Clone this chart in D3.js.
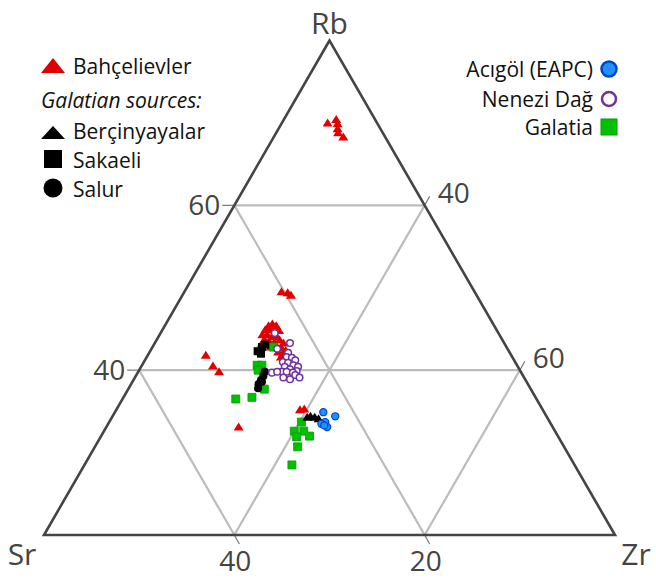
<!DOCTYPE html>
<html>
<head>
<meta charset="utf-8">
<script src="https://cdn.jsdelivr.net/npm/d3@7"></script>
<style>
  html, body { margin: 0; padding: 0; background: #fff; }
  svg { display: block; font-family: "Open Sans", "DejaVu Sans", sans-serif; }
</style>
</head>
<body>
<svg id="chart" width="656" height="579"></svg>
<script>
// [Rb, Sr, Zr] in %
const bahcelievler = [
  [70.0, 5.2, 24.8], [70.4, 4.1, 25.5], [69.9, 4.2, 25.9], [69.3, 4.5, 26.2], [68.8, 4.7, 26.5], [68.3, 4.4, 27.3],
  [49.5, 20.3, 30.2], [49.4, 19.7, 30.9], [49.1, 19.5, 31.4],
  [41.8, 32.1, 26.1], [40.5, 32.0, 27.5], [39.8, 31.7, 28.5], [33.1, 33.0, 33.9],
  [35.2, 25.5, 39.3], [35.3, 25.0, 39.7],
  [45.4, 23.7, 30.9], [45.6, 23.2, 31.2], [45.4, 22.9, 31.7], [44.9, 24.3, 30.8], [44.9, 23.8, 31.3],
  [44.8, 23.3, 31.9], [44.8, 22.9, 32.3], [44.3, 24.9, 30.8], [44.3, 24.4, 31.3], [44.1, 24.0, 31.9],
  [44.1, 23.5, 32.4], [43.7, 25.0, 31.3], [43.5, 24.6, 31.9], [43.4, 24.1, 32.5], [43.7, 23.4, 32.9],
  [43.3, 23.2, 33.5], [42.8, 24.8, 32.4], [42.8, 24.2, 33.0], [42.7, 23.7, 33.6], [42.4, 23.4, 34.2],
  [42.2, 24.3, 33.5], [42.0, 23.9, 34.1], [41.7, 23.5, 34.8], [41.6, 24.3, 34.1], [41.2, 24.0, 34.8],
  [41.4, 23.4, 35.2], [43.1, 24.9, 32.0], [43.2, 25.5, 31.3]
];
const bercinyayalar = [[34.3, 25.2, 40.5], [34.4, 24.8, 40.8], [34.3, 24.4, 41.3], [34.1, 24.1, 41.8]];
const sakaeli = [[42.3, 26.4, 31.3], [42.8, 25.7, 31.5], [43.1, 25.2, 31.7], [42.0, 26.2, 31.8]];
const salur = [[39.8, 26.9, 33.3], [39.3, 27.3, 33.4], [38.8, 27.8, 33.4], [38.3, 28.3, 33.4], [37.8, 28.6, 33.6], [38.6, 27.8, 33.6]];
const acigol = [[34.9, 23.2, 41.9], [34.4, 22.2, 43.4], [33.7, 23.6, 42.7], [33.5, 24.1, 42.4], [33.1, 23.7, 43.2], [33.3, 23.9, 42.8]];
const nenezi = [
  [44.5, 23.5, 32.0], [42.6, 24.2, 33.2], [43.3, 22.5, 34.2], [42.1, 23.3, 34.6], [41.6, 23.7, 34.7],
  [41.5, 23.2, 35.3], [41.2, 23.0, 35.8], [41.0, 24.4, 34.6], [40.9, 23.9, 35.2], [40.6, 23.5, 35.9],
  [40.4, 24.5, 35.1], [40.4, 23.1, 36.5], [40.1, 24.1, 35.8], [39.9, 23.5, 36.6], [39.8, 25.1, 35.1],
  [39.8, 24.6, 35.6], [39.7, 24.0, 36.3], [39.7, 26.2, 34.1], [39.8, 25.6, 34.6], [39.4, 23.9, 36.7],
  [39.1, 23.6, 37.3], [38.9, 24.7, 36.4], [39.1, 25.3, 35.6]
];
const galatia = [
  [42.8, 24.5, 32.7], [40.6, 27.3, 32.1], [40.6, 26.8, 32.6], [40.0, 27.5, 32.5], [37.7, 28.0, 34.3],
  [36.7, 29.8, 33.5], [36.5, 31.6, 31.9], [33.7, 26.1, 40.2], [32.6, 27.4, 40.0], [32.6, 26.4, 41.0],
  [31.9, 27.5, 40.6], [32.0, 26.1, 41.9], [30.7, 28.0, 41.3], [28.5, 29.7, 41.8]
];
const rbTicks = [40, 60];
const srTicks = [40, 20];
const zrTicks = [40, 60];

const svg = d3.select('#chart');

// the plot covers Rb 20-80, Sr 0-60, Zr 20-80
const rbScale = d3.scaleLinear().domain([20, 80]).range([0, 1]);
const zrScale = d3.scaleLinear().domain([20, 80]).range([0, 1]);
const xScale = d3.scaleLinear().domain([0, 1]).range([44, 615]);
const yScale = d3.scaleLinear().domain([0, 1]).range([535, 40.5]);

function project(rb, sr, zr) {
  const a = rbScale(rb), c = zrScale(zr);
  return [xScale(c + a / 2), yScale(a)];
}

const corners = [project(80, 0, 20), project(20, 60, 20), project(20, 0, 80)];

// grid
const grid = svg.append('g').attr('stroke', '#bcbcbc').attr('stroke-width', 2.2).attr('fill', 'none');
rbTicks.forEach(v => {
  const p1 = project(v, 80 - v, 20), p2 = project(v, 0, 100 - v);
  grid.append('line').attr('x1', p1[0]).attr('y1', p1[1]).attr('x2', p2[0]).attr('y2', p2[1]);
});
srTicks.forEach(v => {
  const p1 = project(80 - v, v, 20), p2 = project(20, v, 80 - v);
  grid.append('line').attr('x1', p1[0]).attr('y1', p1[1]).attr('x2', p2[0]).attr('y2', p2[1]);
});
zrTicks.forEach(v => {
  const p1 = project(100 - v, 0, v), p2 = project(20, 80 - v, v);
  grid.append('line').attr('x1', p1[0]).attr('y1', p1[1]).attr('x2', p2[0]).attr('y2', p2[1]);
});

// ticks
const ticks = svg.append('g').attr('stroke', '#777').attr('stroke-width', 1.2);
const labels = svg.append('g').attr('fill', '#444').attr('font-size', 28);
rbTicks.forEach(v => {
  const p = project(v, 80 - v, 20);
  ticks.append('line').attr('x1', p[0]).attr('y1', p[1]).attr('x2', p[0] - 12).attr('y2', p[1]);
  labels.append('text').attr('x', p[0] - 14).attr('y', p[1] + 10).attr('text-anchor', 'end').text(v);
});
srTicks.forEach(v => {
  const p = project(20, v, 80 - v);
  ticks.append('line').attr('x1', p[0]).attr('y1', p[1]).attr('x2', p[0] + 5).attr('y2', p[1] + 9);
  labels.append('text').attr('x', p[0] + 1).attr('y', p[1] + 36).attr('text-anchor', 'middle').text(v);
});
zrTicks.forEach(v => {
  const p = project(100 - v, 0, v);
  ticks.append('line').attr('x1', p[0]).attr('y1', p[1]).attr('x2', p[0] + 5).attr('y2', p[1] - 9);
  labels.append('text').attr('x', p[0] + 13).attr('y', p[1] - 2).attr('text-anchor', 'start').text(v);
});

// outline
svg.append('path')
  .attr('d', d3.line()(corners) + 'Z')
  .attr('fill', 'none').attr('stroke', '#444').attr('stroke-width', 2.6).attr('stroke-linejoin', 'miter');

// vertex labels
const vlab = svg.append('g').attr('fill', '#444').attr('font-size', 30);
vlab.append('text').attr('x', corners[0][0]).attr('y', 34).attr('text-anchor', 'middle').text('Rb');
vlab.append('text').attr('x', 22).attr('y', 565).attr('text-anchor', 'middle').text('Sr');
vlab.append('text').attr('x', 636).attr('y', 565).attr('text-anchor', 'middle').text('Zr');

// markers
const tri = 'M-5,3.5L0,-4.5L5,3.5Z';
function drawPoints(data, cls, shape) {
  const g = svg.append('g').attr('class', cls);
  g.selectAll('path')
    .data(data)
    .join('path')
      .attr('transform', d => { const p = project(d[0], d[1], d[2]); return `translate(${p[0]},${p[1]})`; })
      .attr('d', shape);
  return g;
}
const sq = 'M-4,-4H4V4H-4Z';
const circ = d3.symbol(d3.symbolCircle, 52)();

drawPoints(bahcelievler, 'bahcelievler', tri).attr('fill', '#e00000');
drawPoints(galatia, 'galatia', sq).attr('fill', '#00c000').attr('stroke', '#00a000').attr('stroke-width', 0.8);
drawPoints(sakaeli, 'sakaeli', sq).attr('fill', '#000');
drawPoints(salur, 'salur', circ).attr('fill', '#000');
drawPoints(bercinyayalar, 'bercinyayalar', tri).attr('fill', '#000');
drawPoints(nenezi, 'nenezi', d3.symbol(d3.symbolCircle, 34)()).attr('fill', '#fff').attr('stroke', '#7030a0').attr('stroke-width', 1.5);
drawPoints(acigol, 'acigol', d3.symbol(d3.symbolCircle, 40)()).attr('fill', '#1e90ff').attr('stroke', '#0044cc').attr('stroke-width', 1.2);

// legend, left
const leg = svg.append('g').attr('font-size', 21).attr('fill', '#111');
leg.append('path').attr('d', 'M41,73L53,58L65,73Z').attr('fill', '#e00000');
leg.append('text').attr('x', 73).attr('y', 74).text('Bahçelievler');
leg.append('text').attr('x', 41).attr('y', 108).attr('font-style', 'italic').text('Galatian sources:');
leg.append('path').attr('d', 'M41,139L53,126L65,139Z').attr('fill', '#000');
leg.append('text').attr('x', 73).attr('y', 139).text('Berçinyayalar');
leg.append('rect').attr('x', 44).attr('y', 150).attr('width', 18).attr('height', 18).attr('fill', '#000');
leg.append('text').attr('x', 73).attr('y', 168).text('Sakaeli');
leg.append('circle').attr('cx', 53).attr('cy', 188).attr('r', 9.5).attr('fill', '#000');
leg.append('text').attr('x', 73).attr('y', 197).text('Salur');

// legend, right
leg.append('text').attr('x', 593).attr('y', 77).attr('text-anchor', 'end').text('Acıgöl (EAPC)');
leg.append('circle').attr('cx', 609).attr('cy', 69).attr('r', 7.5).attr('fill', '#1e90ff').attr('stroke', '#0044cc').attr('stroke-width', 2.5);
leg.append('text').attr('x', 593).attr('y', 107).attr('text-anchor', 'end').text('Nenezi Dağ');
leg.append('circle').attr('cx', 609).attr('cy', 99).attr('r', 7).attr('fill', '#fff').attr('stroke', '#7030a0').attr('stroke-width', 2.5);
leg.append('text').attr('x', 593).attr('y', 135).attr('text-anchor', 'end').text('Galatia');
leg.append('rect').attr('x', 601).attr('y', 119).attr('width', 16).attr('height', 16).attr('fill', '#00c000').attr('stroke', '#00a000').attr('stroke-width', 1);
</script>
</body>
</html>
